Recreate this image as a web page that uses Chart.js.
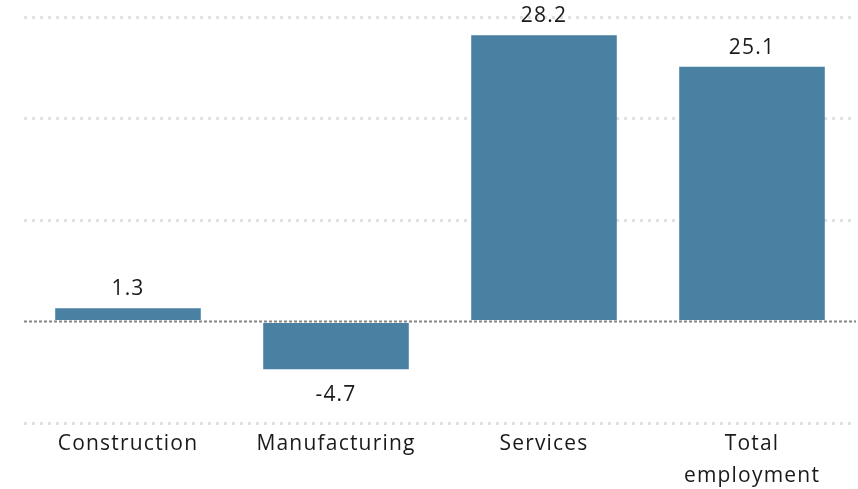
<!DOCTYPE html>
<html lang="en">
  <head>
    <meta charset="UTF-8" />
    <title>Employment change by sector</title>
    <script src="https://cdn.jsdelivr.net/npm/chart.js"></script>
    <style>
      html, body { margin: 0; padding: 0; background: #fff; }
      .wrap { width: 858px; height: 489px; }
    </style>
  </head>
  <body>
    <div class="wrap"><canvas id="chart"></canvas></div>
    <script>
      const categories = ['Construction', 'Manufacturing', 'Services', ['Total', 'employment']];
      const values = [1.3, -4.7, 28.2, 25.1];
      const yTicks = [-10, 0, 10, 20, 30];

      const barColor = '#4a80a1';
      const fontFamily = '"Open Sans", sans-serif';

      // wider tracking, closer to the original typeface
      const tracking = {
        id: 'tracking',
        beforeDraw(chart) { chart.ctx.letterSpacing = '1.2px'; }
      };

      // value labels above/below each bar, plus the zero line on top of bars
      const valueLabels = {
        id: 'valueLabels',
        afterDatasetsDraw(chart) {
          const ctx = chart.ctx;
          const y = chart.scales.y;
          const area = chart.chartArea;
          const zero = y.getPixelForValue(0);
          ctx.save();
          ctx.strokeStyle = 'rgba(110,110,110,0.85)';
          ctx.lineWidth = 2;
          ctx.setLineDash([3, 2]);
          ctx.beginPath();
          ctx.moveTo(area.left, zero);
          ctx.lineTo(area.right, zero);
          ctx.stroke();
          ctx.setLineDash([]);

          ctx.font = '21px ' + fontFamily;
          ctx.fillStyle = '#1a1a1a';
          ctx.textAlign = 'center';
          ctx.textBaseline = 'middle';
          const meta = chart.getDatasetMeta(0);
          meta.data.forEach((bar, i) => {
            const v = values[i];
            const ty = v >= 0 ? bar.y - 19 : bar.y + 26;
            ctx.fillText(v.toFixed(1), bar.x, ty);
          });
          ctx.restore();
        }
      };

      new Chart(document.getElementById('chart'), {
        type: 'bar',
        data: {
          labels: categories,
          datasets: [{
            data: values,
            backgroundColor: barColor,
            borderWidth: 0,
            categoryPercentage: 1,
            barPercentage: 0.7
          }]
        },
        options: {
          responsive: true,
          maintainAspectRatio: false,
          animation: false,
          layout: { padding: { top: 17, left: 24, right: 2, bottom: 0 } },
          plugins: { legend: { display: false }, tooltip: { enabled: false } },
          scales: {
            x: {
              grid: { display: false },
              border: { display: false },
              ticks: {
                color: '#1a1a1a',
                padding: -3,
                maxRotation: 0,
                font: { family: fontFamily, size: 21, lineHeight: 32 / 21 }
              },
              afterFit(scale) { scale.height = 66; }
            },
            y: {
              min: yTicks[0],
              max: yTicks[yTicks.length - 1],
              afterBuildTicks(scale) { scale.ticks = yTicks.map(v => ({ value: v })); },
              ticks: { display: false },
              grid: {
                drawTicks: false,
                lineWidth: 3,
                color: ctx => ctx.tick && ctx.tick.value === 0 ? 'rgba(0,0,0,0)' : '#e0e0e0'
              },
              border: { display: false, dash: [3, 5] },
              afterFit(scale) { scale.width = 0; }
            }
          }
        },
        plugins: [tracking, valueLabels]
      });
    </script>
  </body>
</html>
